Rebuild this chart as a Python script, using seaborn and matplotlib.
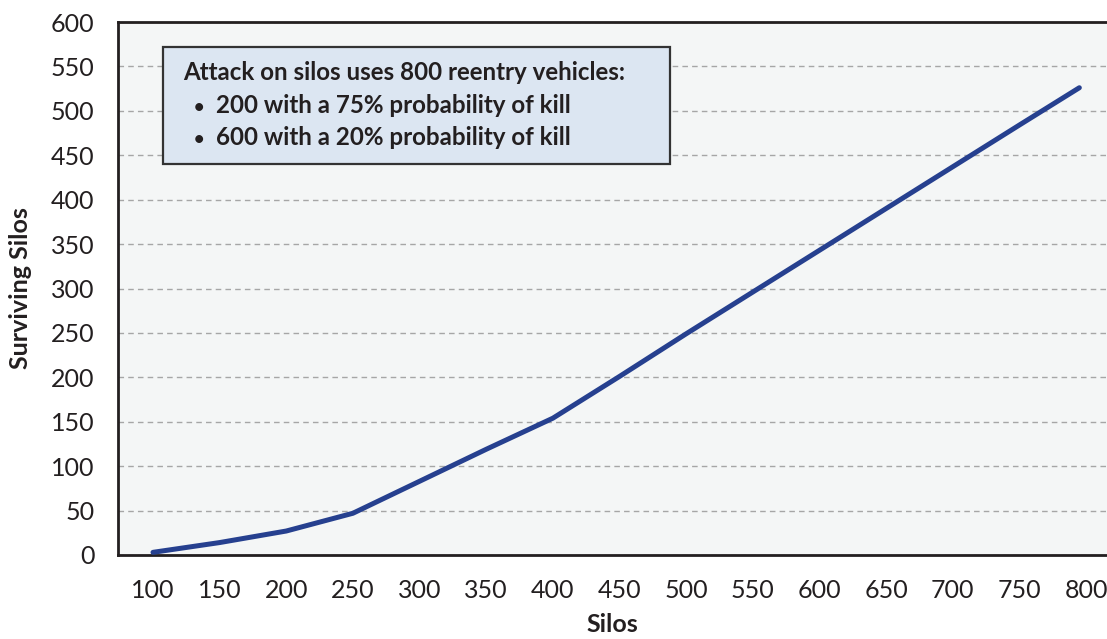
import matplotlib
matplotlib.use("Agg")
import matplotlib.pyplot as plt
from matplotlib.patches import Rectangle
import seaborn as sns

# surviving silos vs. number of silos
silos = [100, 150, 200, 250, 300, 350, 400, 450, 500, 550, 600, 650, 700, 750, 795]
surviving = [3, 14, 27, 47, 83, 119, 154, 201, 249, 296, 343, 390, 437, 484, 526]

x_ticks = list(range(100, 801, 50))
y_ticks = list(range(0, 601, 50))

box_title = "Attack on silos uses 800 reentry vehicles:"
box_items = ["200 with a 75% probability of kill",
             "600 with a 20% probability of kill"]

LINE_COLOR = "#26408f"
INK = "#231f20"

sns.set_style("white")
plt.rcParams["font.family"] = ["Lato", "DejaVu Sans"]

fig = plt.figure(figsize=(11.07, 6.39), dpi=100)
ax = fig.add_axes([118 / 1107, 1 - 555 / 639, 1 - 118 / 1107, (555 - 22) / 639])
ax.set_facecolor("#f4f6f6")

sns.lineplot(x=silos, y=surviving, ax=ax, color=LINE_COLOR, linewidth=3.6,
             solid_joinstyle="miter", zorder=3)

ax.set_xlim(73.75, 815.75)
ax.set_ylim(0, 600)
ax.set_xticks(x_ticks)
ax.set_yticks(y_ticks)
ax.tick_params(axis="both", direction="out", length=7, width=2, color=INK,
               labelsize=18, labelcolor=INK, pad=10)
ax.tick_params(axis="x", pad=10)

ax.grid(axis="y", linestyle=(0, (4, 3)), color="#a6a6a6", linewidth=1)
ax.grid(axis="x", visible=False)
ax.set_axisbelow(True)

for side in ["left", "top", "bottom"]:
    ax.spines[side].set_visible(True)
    ax.spines[side].set_color(INK)
    ax.spines[side].set_linewidth(2)
ax.spines["right"].set_visible(False)

ax.set_xlabel("Silos", fontsize=18, fontweight="bold", color=INK, labelpad=8)
ax.set_ylabel("Surviving Silos", fontsize=18, fontweight="bold", color=INK)
ax.yaxis.set_label_coords(-0.087, 0.5)

# annotation box
fig.add_artist(Rectangle((163 / 1107, 1 - 164 / 639), 507 / 1107, 117 / 639,
                         transform=fig.transFigure, facecolor="#dce6f2",
                         edgecolor="#333333", linewidth=1.6, zorder=5))
fig.text(183 / 1107, 1 - 80 / 639, box_title, fontsize=17.4, fontweight="bold",
         color=INK, va="baseline", zorder=6)
for i, item in enumerate(box_items):
    yb = 1 - (113 + 32 * i) / 639
    fig.text(194 / 1107, yb, "\u2022", fontsize=13, fontweight="bold",
             color=INK, va="baseline", zorder=6)
    fig.text(216 / 1107, yb, item, fontsize=17.4, fontweight="bold",
             color=INK, va="baseline", zorder=6)

fig.savefig("out.png", dpi=100)
plt.close(fig)
